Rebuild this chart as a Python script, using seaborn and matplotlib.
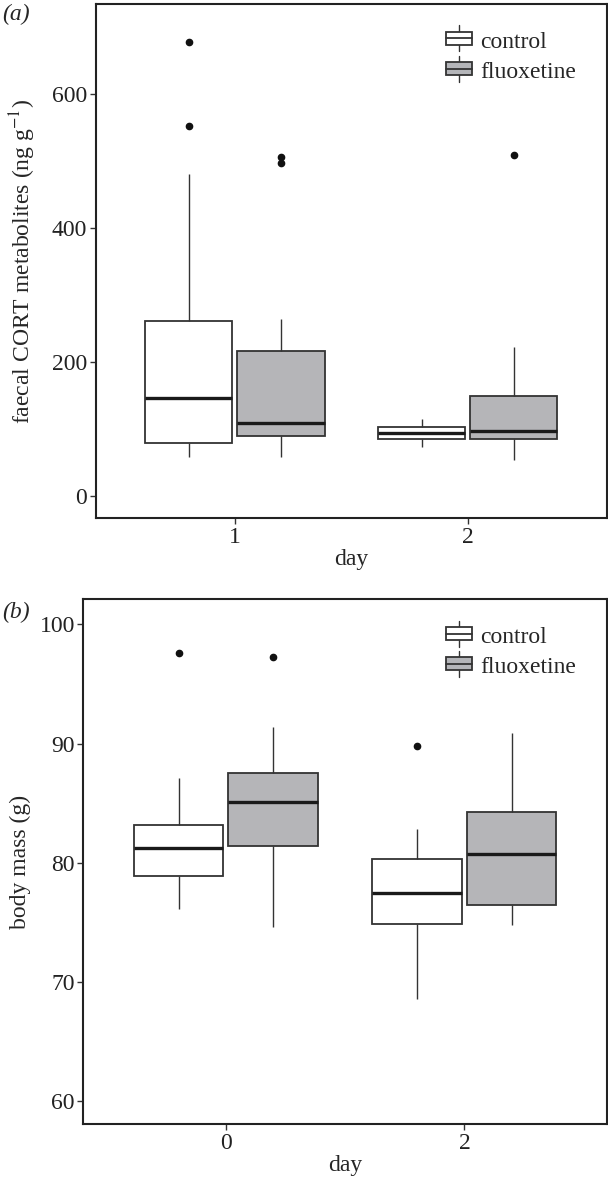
import pandas as pd
import matplotlib
matplotlib.use("Agg")
import matplotlib.pyplot as plt
from matplotlib.patches import Patch, Rectangle
from matplotlib.lines import Line2D
from matplotlib.legend_handler import HandlerBase
import seaborn as sns

# ---- data (a) : faecal CORT metabolites, ng/g ----
cort_control_d1 = [57, 65, 72, 78, 98, 120, 146, 170, 205, 261, 480, 552, 678]
cort_fluox_d1 = [57, 75, 84, 89, 95, 101, 108, 140, 180, 216, 264, 497, 506]
cort_control_d2 = [73, 78, 82, 85, 88, 91, 94, 96, 99, 102, 106, 110, 114]
cort_fluox_d2 = [53, 68, 80, 85, 89, 93, 97, 110, 130, 148.5, 175, 222, 509]

# ---- data (b) : body mass, g ----
mass_control_d0 = [76.1, 77.2, 78.3, 78.9, 79.8, 80.5, 81.2, 81.9, 82.6, 83.2, 85.0, 87.1, 97.6]
mass_fluox_d0 = [74.6, 78.0, 80.2, 81.4, 83.0, 84.2, 85.1, 85.9, 86.7, 87.5, 89.0, 91.4, 97.3]
mass_control_d2 = [68.6, 71.5, 73.4, 74.9, 75.8, 76.7, 77.5, 78.3, 79.4, 80.3, 81.6, 82.8, 89.8]
mass_fluox_d2 = [74.8, 75.4, 76.0, 76.5, 77.8, 79.3, 80.7, 81.6, 82.7, 84.3, 86.5, 88.4, 90.9]

treatments = ["control", "fluoxetine"]
colors = {"control": "#ffffff", "fluoxetine": "#b4b5b9"}


def make_df(groups, days):
    rows = []
    for (day, treat), vals in zip(days, groups):
        for v in vals:
            rows.append({"day": day, "treatment": treat, "value": v})
    return pd.DataFrame(rows)


df_a = make_df([cort_control_d1, cort_fluox_d1, cort_control_d2, cort_fluox_d2],
               [("1", "control"), ("1", "fluoxetine"), ("2", "control"), ("2", "fluoxetine")])
df_b = make_df([mass_control_d0, mass_fluox_d0, mass_control_d2, mass_fluox_d2],
               [("0", "control"), ("0", "fluoxetine"), ("2", "control"), ("2", "fluoxetine")])


class BoxKey(HandlerBase):
    # ggplot-like boxplot legend key
    def create_artists(self, legend, orig_handle, xd, yd, width, height, fontsize, trans):
        fc = orig_handle.get_facecolor()
        cx = xd + width / 2
        h = height * 1.5
        y0 = yd - (h - height) / 2
        wl = Line2D([cx, cx], [y0, y0 + h], color="#333333", lw=1.0, transform=trans)
        box = Rectangle((xd, y0 + h * 0.25), width, h * 0.5, facecolor=fc,
                        edgecolor="#333333", lw=1.3, transform=trans)
        med = Line2D([xd, xd + width], [y0 + h / 2, y0 + h / 2], color="#333333",
                     lw=1.3, transform=trans)
        return [wl, box, med]


sns.set_style("white")
plt.rcParams["font.family"] = ["Liberation Serif", "DejaVu Serif"]
plt.rcParams["mathtext.fontset"] = "stix"

fig = plt.figure(figsize=(6.08, 11.79), dpi=100)
ax_a = fig.add_axes([0.1574, 0.5604, 0.8403, 0.4360])
ax_b = fig.add_axes([0.1370, 0.0464, 0.8607, 0.4453])

box_kw = dict(width=0.79, gap=0.05, linewidth=1.3, linecolor="#333333",
              medianprops=dict(color="#1a1a1a", linewidth=2.4),
              whiskerprops=dict(color="#333333", linewidth=1.0),
              capprops=dict(linewidth=0),
              flierprops=dict(marker="o", markersize=4.5, markerfacecolor="#111111",
                              markeredgecolor="#111111"))

fs = 17
for ax, df, ylab, ylim, yticks, tag, tagpos, lpad in [
        (ax_a, df_a, "faecal CORT metabolites (ng g$^{-1}$)", (-34, 734), [0, 200, 400, 600],
         "(a)", (-0.183, 1.0), 10),
        (ax_b, df_b, "body mass (g)", (58.07, 102.1), [60, 70, 80, 90, 100],
         "(b)", (-0.155, 0.995), 6)]:
    sns.boxplot(data=df, x="day", y="value", hue="treatment", hue_order=treatments,
                palette=colors, ax=ax, **box_kw)
    ax.set_xlim(-0.597, 1.596)
    ax.set_ylim(*ylim)
    ax.set_yticks(yticks)
    ax.set_xlabel("day", fontsize=fs, labelpad=1)
    ax.set_ylabel(ylab, fontsize=fs, labelpad=lpad)
    ax.tick_params(axis="both", labelsize=fs, length=4, width=1.0, color="#333333",
                   labelcolor="#222222", direction="out", left=True, bottom=True, pad=2)
    for s in ax.spines.values():
        s.set_color("#222222")
        s.set_linewidth(1.5)
    handles = [Patch(facecolor=colors[t], edgecolor="#333333") for t in treatments]
    ax.legend(handles, treatments, handler_map={Patch: BoxKey()}, loc="upper right",
              bbox_to_anchor=(0.982, 0.99), frameon=False, fontsize=fs,
              handlelength=1.1, handleheight=0.75, handletextpad=0.35, labelspacing=0.35)
    ax.text(tagpos[0], tagpos[1], tag, transform=ax.transAxes, fontsize=fs,
            style="italic", va="top", ha="left")

fig.savefig("out.png", dpi=100)
